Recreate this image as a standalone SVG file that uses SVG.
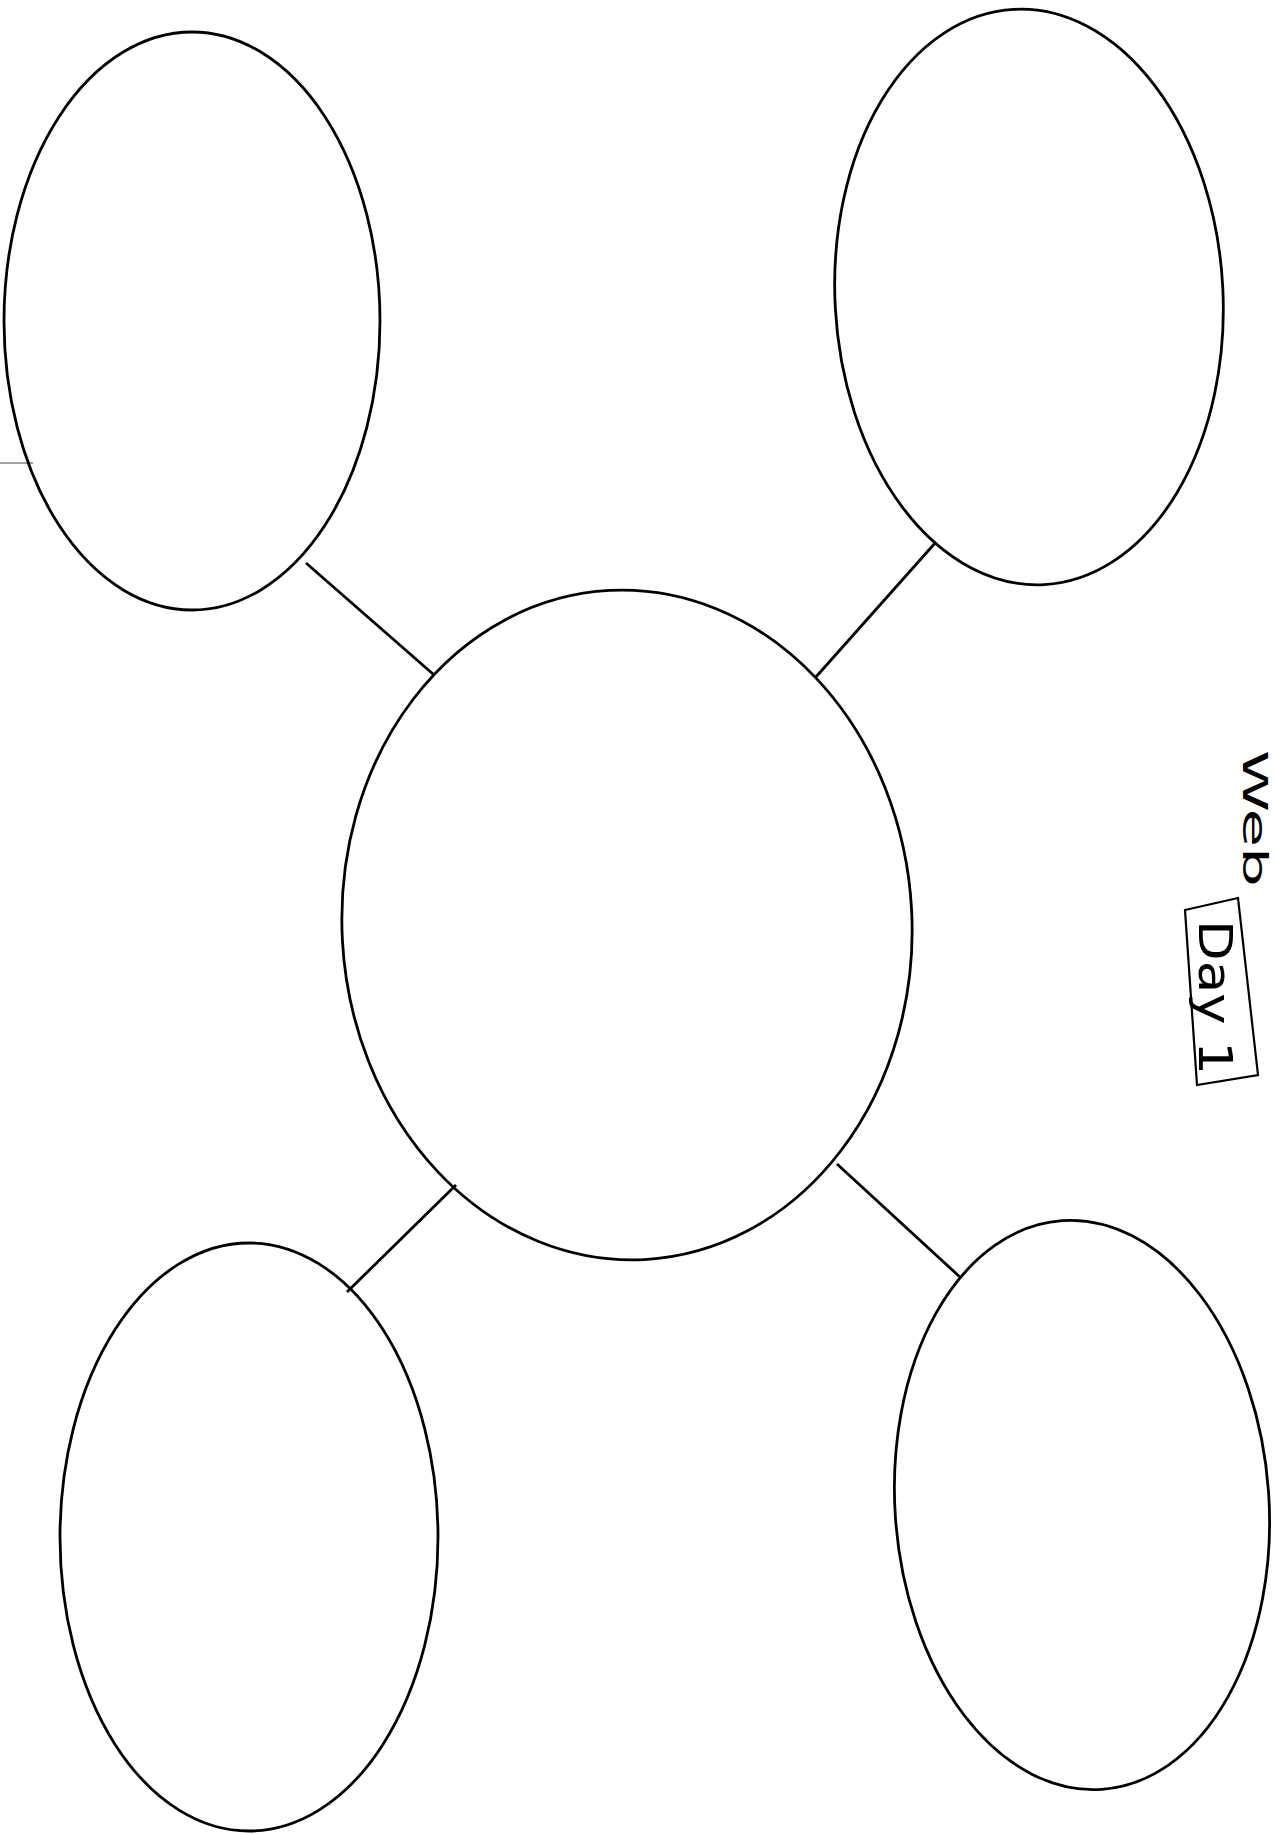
<svg xmlns="http://www.w3.org/2000/svg" width="1276" height="1834" viewBox="0 0 1276 1834">
<style>
.n{fill:none;stroke:#000;stroke-width:2.8}
.c{stroke:#000;stroke-width:2.8;fill:none}
.h{font-family:"DejaVu Sans","Liberation Sans",sans-serif;fill:#000}
</style>
<rect width="1276" height="1834" fill="#fff"/>
<g id="connectors">
<line class="c" x1="306" y1="563" x2="433" y2="674"/>
<line class="c" x1="936" y1="542" x2="815" y2="678"/>
<line class="c" x1="456" y1="1185" x2="347" y2="1292"/>
<line class="c" x1="837" y1="1164" x2="961" y2="1278"/>
</g>
<line x1="0" y1="463" x2="33" y2="463" stroke="#444" stroke-width="1.2"/>
<g id="node-center"><ellipse class="n" cx="627" cy="925" rx="285" ry="335" transform="rotate(-3 627 925)"/></g>
<g id="node-top-left"><ellipse class="n" cx="192" cy="321" rx="188" ry="289"/></g>
<g id="node-top-right"><ellipse class="n" cx="1029" cy="297" rx="194" ry="288" transform="rotate(-3 1029 297)"/></g>
<g id="node-bottom-left"><ellipse class="n" cx="249" cy="1537" rx="189" ry="294"/></g>
<g id="node-bottom-right"><ellipse class="n" cx="1082" cy="1505" rx="187" ry="285" transform="rotate(-4 1082 1505)"/></g>
<g id="title">
<text class="h" font-size="34" textLength="137" lengthAdjust="spacingAndGlyphs" transform="translate(1243 750) rotate(90)">Web</text>
<polygon points="1185,910 1238,898 1258,1075 1197,1085" fill="none" stroke="#000" stroke-width="2.2"/>
<text class="h" font-size="46" textLength="155" lengthAdjust="spacingAndGlyphs" transform="translate(1199 920) rotate(90)">Day 1</text>
</g>
</svg>
